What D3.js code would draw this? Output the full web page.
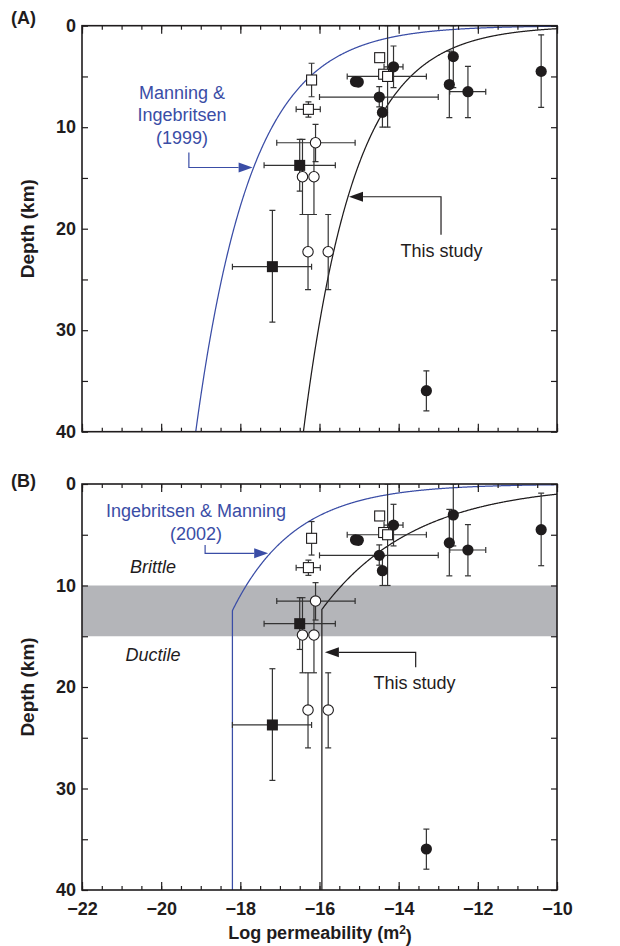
<!DOCTYPE html>
<html>
<head>
<meta charset="utf-8">
<script src="https://cdn.jsdelivr.net/npm/d3@7"></script>
<style>
  body { margin: 0; background: #fff; }
  svg { display: block; }
  text { font-family: "Liberation Sans", Arial, Helvetica, sans-serif; }
</style>
</head>
<body>
<svg id="chart" width="620" height="946"></svg>
<script>
// Log permeability (m^2) against depth (km)
const xDomain = [-22, -10];
const yDomain = [0, 40];
const xLabelTicks = [-22, -20, -18, -16, -14, -12, -10];
const yLabelTicks = [0, 10, 20, 30, 40];

// Observations: k = log permeability, z = depth; optional ranges kLo/kHi, zLo/zHi
const filledCircles = [
  { k: -15.09, z: 5.50 },
  { k: -15.02, z: 5.55 },
  { k: -14.13, z: 4.05, kLo: -14.37, kHi: -13.89, zLo: 2.0, zHi: 6.1 },
  { k: -14.49, z: 7.03, kLo: -16.0, kHi: -13.0, zLo: 6.0, zHi: 8.0 },
  { k: -14.41, z: 8.54, zLo: 7.1, zHi: 10.0 },
  { k: -12.62, z: 3.05, zLo: 0.0, zHi: 6.1 },
  { k: -12.72, z: 5.80, zLo: 2.5, zHi: 9.05 },
  { k: -12.25, z: 6.50, kLo: -12.71, kHi: -11.80, zLo: 4.0, zHi: 9.05 },
  { k: -10.40, z: 4.50, zLo: 0.9, zHi: 8.05 },
  { k: -13.30, z: 35.96, zLo: 34.0, zHi: 37.95 }
];
const openSquares = [
  { k: -16.20, z: 5.35, zLo: 3.7, zHi: 7.0 },
  { k: -16.28, z: 8.24, kLo: -16.59, kHi: -15.98, zLo: 7.5, zHi: 9.0 },
  { k: -14.48, z: 3.15 },
  { k: -14.38, z: 4.78 },
  { k: -14.28, z: 5.00, kLo: -15.30, kHi: -13.30, zLo: 0.0, zHi: 10.0 }
];
const openCircles = [
  { k: -16.10, z: 11.53, kLo: -17.08, kHi: -15.10, zLo: 9.72, zHi: 13.4 },
  { k: -16.43, z: 14.88, zLo: 11.2, zHi: 18.6 },
  { k: -16.14, z: 14.88, zLo: 11.2, zHi: 18.6 },
  { k: -16.29, z: 22.27, zLo: 18.6, zHi: 26.0 },
  { k: -15.78, z: 22.27, zLo: 18.6, zHi: 26.0 }
];
const filledSquares = [
  { k: -16.50, z: 13.76, kLo: -17.40, kHi: -15.60, zLo: 11.2, zHi: 16.3 },
  { k: -17.19, z: 23.74, kLo: -18.20, kHi: -16.20, zLo: 18.2, zHi: 29.2 }
];

// Permeability-depth relations: log k = a - b log z, floored at kMin where given
const manning1999 = { a: -14.0, b: 3.2 };
const thisStudyA = { a: -11.6, b: 3.0 };
const ingebritsen2002 = { a: -14.2, b: 3.65, kMin: -18.2 };
const thisStudyB = { a: -10.0, b: 5.44, kMin: -15.94 };
const brittleDuctile = [10, 15];

const BLUE = "#3a4da6";
const INK = "#1f1c1d";

const svg = d3.select("#chart");
const frameLeft = 82, frameRight = 557, panelHeight = 406;

const logK = (rel, z) => {
  const k = rel.a - rel.b * Math.log10(z);
  return rel.kMin !== undefined ? Math.max(k, rel.kMin) : k;
};
const depthSamples = d3.range(0, 1201).map(i => 0.004 * Math.pow(40 / 0.004, i / 1200));

function drawPanel(id, top, opts) {
  const x = d3.scaleLinear().domain(xDomain).range([frameLeft, frameRight]);
  const y = d3.scaleLinear().domain(yDomain).range([top, top + panelHeight]);
  const g = svg.append("g").attr("class", "panel-" + id);

  g.append("clipPath").attr("id", "clip-" + id)
    .append("rect")
    .attr("x", frameLeft).attr("y", top)
    .attr("width", frameRight - frameLeft).attr("height", panelHeight);

  const plot = g.append("g").attr("clip-path", `url(#clip-${id})`);

  // Brittle-ductile transition band
  if (opts.band) {
    plot.append("rect")
      .attr("x", frameLeft).attr("width", frameRight - frameLeft)
      .attr("y", y(opts.band[0])).attr("height", y(opts.band[1]) - y(opts.band[0]))
      .attr("fill", "#b4b5b9");
  }

  // Relation curves
  const line = d3.line().x(d => x(d.k)).y(d => y(d.z));
  opts.curves.forEach(c => {
    const pts = depthSamples.map(z => ({ z, k: logK(c.rel, z) })).filter(d => d.k <= -9.8);
    plot.append("path").datum(pts)
      .attr("d", line)
      .attr("fill", "none")
      .attr("stroke", c.color)
      .attr("stroke-width", 1.25);
  });

  // Error bars
  const all = [...filledCircles, ...openSquares, ...openCircles, ...filledSquares];
  const bars = plot.append("g").attr("stroke", "#333").attr("stroke-width", 1.2).attr("fill", "none");
  const cap = 3;
  all.forEach(d => {
    if (d.kLo !== undefined) {
      bars.append("line").attr("x1", x(d.kLo)).attr("x2", x(d.kHi)).attr("y1", y(d.z)).attr("y2", y(d.z));
      [d.kLo, d.kHi].forEach(v => bars.append("line")
        .attr("x1", x(v)).attr("x2", x(v)).attr("y1", y(d.z) - cap).attr("y2", y(d.z) + cap));
    }
    if (d.zLo !== undefined) {
      bars.append("line").attr("x1", x(d.k)).attr("x2", x(d.k)).attr("y1", y(d.zLo)).attr("y2", y(d.zHi));
      [d.zLo, d.zHi].forEach(v => bars.append("line")
        .attr("x1", x(d.k) - cap).attr("x2", x(d.k) + cap).attr("y1", y(v)).attr("y2", y(v)));
    }
  });

  // Markers
  const marks = plot.append("g");
  marks.selectAll(".osq").data(openSquares).join("rect")
    .attr("x", d => x(d.k) - 5).attr("y", d => y(d.z) - 5)
    .attr("width", 10).attr("height", 10)
    .attr("fill", "#fff").attr("stroke", INK).attr("stroke-width", 1.1);
  marks.selectAll(".fsq").data(filledSquares).join("rect")
    .attr("x", d => x(d.k) - 5.5).attr("y", d => y(d.z) - 5.5)
    .attr("width", 11).attr("height", 11)
    .attr("fill", INK);
  marks.selectAll(".oc").data(openCircles).join("circle")
    .attr("cx", d => x(d.k)).attr("cy", d => y(d.z)).attr("r", 5.2)
    .attr("fill", "#fff").attr("stroke", INK).attr("stroke-width", 1.1);
  marks.selectAll(".fc").data(filledCircles).join("circle")
    .attr("cx", d => x(d.k)).attr("cy", d => y(d.z)).attr("r", 5.6)
    .attr("fill", INK);

  // Axes with inward ticks
  const axes = g.append("g");
  const minorK = d3.range(-22, -9.99, 0.5);
  const majorK = xLabelTicks;
  const depthTicks = d3.range(0, 40.01, 5);

  const styleAxis = sel => {
    sel.select(".domain").remove();
    sel.selectAll(".tick line").attr("stroke", INK).attr("stroke-width", 1.2);
    sel.selectAll("text")
      .attr("fill", INK)
      .style("font-size", "18px")
      .style("font-weight", "bold")
      .style("font-family", '"Liberation Sans", Arial, sans-serif');
  };

  axes.append("g").attr("transform", `translate(0,${top + panelHeight})`)
    .call(d3.axisBottom(x).tickValues(minorK).tickSize(-4).tickFormat("")).call(styleAxis);
  axes.append("g").attr("transform", `translate(0,${top})`)
    .call(d3.axisTop(x).tickValues(minorK).tickSize(-4).tickFormat("")).call(styleAxis);
  axes.append("g").attr("transform", `translate(0,${top})`)
    .call(d3.axisTop(x).tickValues(majorK).tickSize(-8).tickFormat("")).call(styleAxis);
  axes.append("g").attr("transform", `translate(0,${top + panelHeight})`)
    .call(d3.axisBottom(x).tickValues(majorK).tickSize(-8).tickPadding(12)
      .tickFormat(opts.xLabels ? d3.format("d") : "")).call(styleAxis);

  axes.append("g").attr("transform", `translate(${frameLeft},0)`)
    .call(d3.axisLeft(y).tickValues(depthTicks).tickSize(-6).tickPadding(6)
      .tickFormat(d => yLabelTicks.includes(d) ? d : "")).call(styleAxis);
  axes.append("g").attr("transform", `translate(${frameRight},0)`)
    .call(d3.axisRight(y).tickValues(depthTicks).tickSize(-6).tickFormat("")).call(styleAxis);

  // Frame
  g.append("rect")
    .attr("x", frameLeft).attr("y", top)
    .attr("width", frameRight - frameLeft).attr("height", panelHeight)
    .attr("fill", "none").attr("stroke", INK).attr("stroke-width", 1.6);

  // Axis title
  g.append("text")
    .attr("transform", `translate(27,${top + panelHeight / 2}) rotate(-90)`)
    .attr("text-anchor", "middle").attr("dy", "0.35em")
    .attr("fill", INK)
    .style("font-size", "19px").style("font-weight", "bold")
    .text("Depth (km)");

  // Panel letter
  g.append("text")
    .attr("x", 11).attr("y", opts.letterY)
    .attr("fill", INK)
    .style("font-size", "18px").style("font-weight", "bold")
    .text(opts.letter);

  // Annotations with elbow arrows
  const arrow = (a, color) => {
    const x0 = x(a.fromK), yA = y(a.fromZ), yB = y(a.toZ);
    const tipX = x(a.tipK) + (a.tipOffset || 0);
    const dir = tipX > x0 ? 1 : -1;
    const headLen = 14, headHalf = 5;
    g.append("path")
      .attr("d", `M${x0},${yA}V${yB}H${tipX - dir * headLen}`)
      .attr("fill", "none").attr("stroke", color).attr("stroke-width", 1.2);
    g.append("path")
      .attr("d", `M${tipX},${yB}L${tipX - dir * headLen},${yB - headHalf}L${tipX - dir * headLen},${yB + headHalf}Z`)
      .attr("fill", color);
  };
  opts.notes.forEach(n => {
    const t = g.append("text")
      .attr("text-anchor", "middle")
      .attr("fill", n.color)
      .style("font-size", "18px")
      .style("font-style", n.italic ? "italic" : "normal");
    n.lines.forEach((s, i) => {
      t.append("tspan").attr("x", n.x).attr("y", n.y + i * 22.8).text(s);
    });
    if (n.arrow) arrow(n.arrow, n.color);
  });

  return { x, y };
}

// Panel A
drawPanel("a", 25.7, {
  letter: "(A)", letterY: 24,
  xLabels: false,
  curves: [
    { rel: manning1999, color: BLUE },
    { rel: thisStudyA, color: INK }
  ],
  notes: [
    { lines: ["Manning &", "Ingebritsen", "(1999)"], x: 182, y: 98.5, color: BLUE,
      arrow: { fromK: -19.30, fromZ: 12.5, toZ: 13.97, tipK: logK(manning1999, 13.97), tipOffset: -1 } },
    { lines: ["This study"], x: 441.5, y: 256.7, color: INK,
      arrow: { fromK: -12.93, fromZ: 20.6, toZ: 16.85, tipK: logK(thisStudyA, 16.85), tipOffset: 1 } }
  ]
});

// Panel B
drawPanel("b", 484, {
  letter: "(B)", letterY: 487,
  xLabels: true,
  band: brittleDuctile,
  curves: [
    { rel: ingebritsen2002, color: BLUE },
    { rel: thisStudyB, color: INK }
  ],
  notes: [
    { lines: ["Ingebritsen & Manning", "(2002)"], x: 196, y: 516.7, color: BLUE,
      arrow: { fromK: -18.89, fromZ: 6.0, toZ: 6.83, tipK: logK(ingebritsen2002, 6.83), tipOffset: -2 } },
    { lines: ["Brittle"], x: 153, y: 572.5, color: INK, italic: true },
    { lines: ["Ductile"], x: 153, y: 661, color: INK, italic: true },
    { lines: ["This study"], x: 414.5, y: 689, color: INK,
      arrow: { fromK: -13.57, fromZ: 18.06, toZ: 16.58, tipK: logK(thisStudyB, 16.58), tipOffset: 3 } }
  ]
});

// Shared x-axis title
const xt = svg.append("text")
  .attr("x", 320).attr("y", 939)
  .attr("text-anchor", "middle")
  .attr("fill", INK)
  .style("font-size", "18px").style("font-weight", "bold");
xt.append("tspan").text("Log permeability (m");
xt.append("tspan").attr("dy", "-0.45em").style("font-size", "12px").text("2");
xt.append("tspan").attr("dy", "0.45em").text(")");
</script>
</body>
</html>
